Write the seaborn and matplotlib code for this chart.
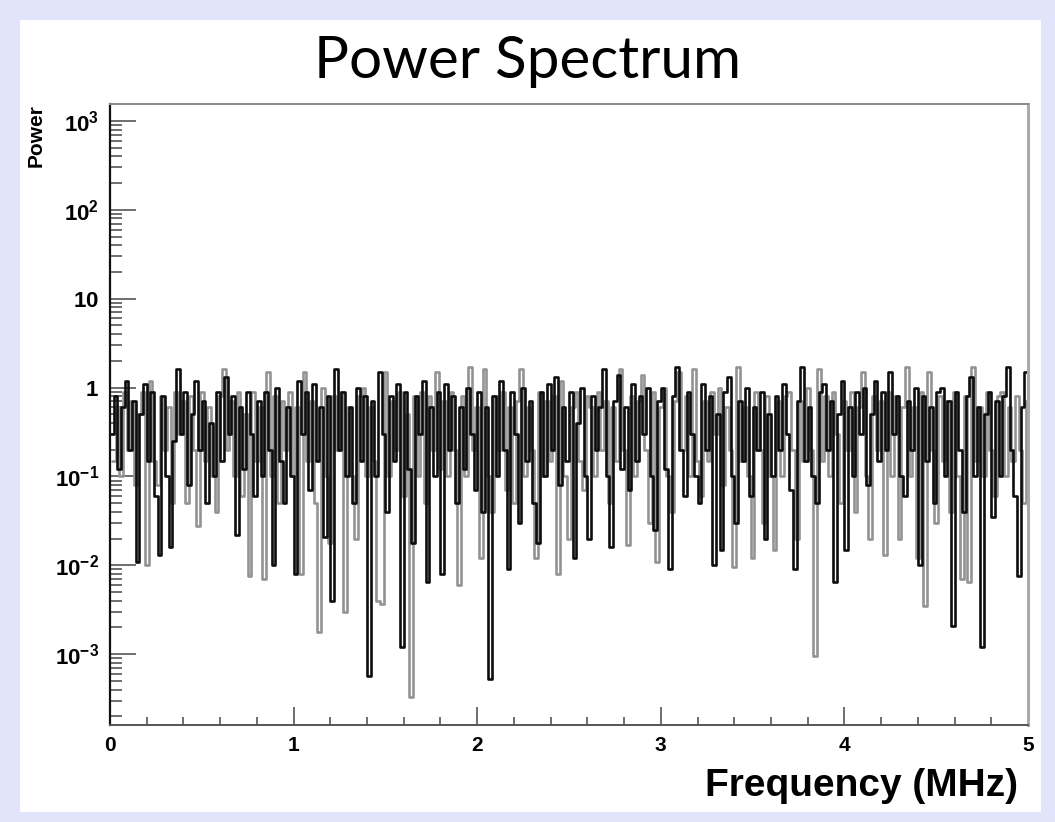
import numpy as np
import pandas as pd
import matplotlib
matplotlib.use("Agg")
import matplotlib.pyplot as plt
from matplotlib.patches import Rectangle
from matplotlib.ticker import MultipleLocator, LogLocator, NullFormatter
import seaborn as sns

# power per frequency bin (two overlapping spectra)
bin_width = 0.02  # MHz
black_start = 0.0
gray_start = 0.01

black_power = [
	0.3, 0.8, 0.12, 0.6, 1.2, 0.2, 0.7, 0.011, 0.5, 1.1,
	0.15, 0.9, 0.06, 0.013, 0.8, 0.1, 0.016, 0.25, 1.6, 0.3,
	0.9, 0.08, 0.5, 1.2, 0.2, 0.7, 0.05, 0.4, 0.1, 0.9,
	0.15, 1.3, 0.3, 0.8, 0.022, 0.6, 0.12, 0.9, 0.3, 0.06,
	0.7, 0.1, 0.9, 0.2, 0.01, 1.0, 0.15, 0.05, 0.6, 0.1,
	0.008, 1.2, 0.3, 0.9, 0.07, 1.1, 0.15, 0.6, 0.021, 0.8,
	0.004, 1.6, 0.2, 0.9, 0.1, 0.6, 0.05, 1.0, 0.15, 0.8,
	0.00057, 0.7, 0.1, 1.5, 0.3, 0.04, 0.8, 0.15, 1.1, 0.0012,
	0.9, 0.12, 0.018, 0.8, 0.3, 1.2, 0.0065, 0.6, 0.1, 0.9,
	0.008, 1.1, 0.2, 0.8, 0.05, 0.6, 0.12, 1.0, 0.3, 0.07,
	0.9, 0.04, 0.6, 0.00052, 0.8, 0.1, 1.2, 0.2, 0.009, 0.9,
	0.3, 0.03, 1.0, 0.15, 0.7, 0.05, 0.018, 0.9, 0.1, 1.1,
	0.2, 1.3, 0.08, 0.6, 0.15, 0.9, 0.012, 0.4, 1.0, 0.1,
	0.02, 0.8, 0.2, 0.6, 1.6, 0.1, 0.016, 0.7, 1.4, 0.12,
	0.6, 0.07, 1.1, 0.15, 0.8, 0.3, 1.0, 0.1, 0.025, 0.7,
	1.0, 0.12, 0.009, 0.8, 1.7, 0.2, 0.06, 0.9, 0.3, 0.1,
	0.05, 1.1, 0.2, 0.8, 0.01, 0.5, 0.015, 0.9, 1.3, 0.1,
	0.03, 0.7, 0.15, 1.0, 0.06, 0.6, 0.2, 0.9, 0.02, 0.5,
	0.1, 0.8, 0.2, 1.1, 0.3, 0.07, 0.009, 0.7, 1.7, 0.15,
	0.6, 0.1, 0.05, 0.9, 1.1, 0.2, 0.7, 0.0065, 0.5, 1.2,
	0.015, 0.6, 0.1, 0.9, 0.3, 1.0, 0.08, 0.5, 1.2, 0.15,
	0.9, 0.2, 1.5, 0.3, 0.8, 0.1, 0.06, 0.7, 0.2, 1.0,
	0.01, 0.8, 0.15, 0.6, 0.05, 0.9, 1.0, 0.1, 0.7, 0.0021,
	0.9, 0.2, 0.04, 0.8, 1.3, 0.1, 0.6, 0.0012, 0.5, 0.9,
	0.035, 0.7, 0.1, 0.8, 1.7, 0.2, 0.06, 0.0075, 0.6, 1.5,
]

gray_power = [
	0.15, 0.6, 0.1, 0.9, 0.2, 0.7, 0.08, 0.5, 0.9, 0.01,
	1.2, 0.15, 0.08, 0.8, 0.2, 0.6, 0.05, 0.9, 0.3, 0.7,
	0.05, 0.8, 0.2, 0.028, 0.9, 0.15, 0.6, 0.1, 0.04, 0.8,
	1.6, 0.2, 0.7, 0.1, 0.9, 0.06, 0.5, 0.0075, 0.9, 0.15,
	0.6, 0.007, 1.5, 0.1, 0.8, 0.05, 0.7, 0.2, 0.9, 0.1,
	0.6, 0.008, 1.5, 0.15, 0.7, 0.05, 0.0018, 1.0, 0.1, 0.018,
	0.8, 0.2, 0.9, 0.003, 0.6, 0.1, 0.02, 0.8, 1.0, 0.1,
	0.6, 0.15, 0.004, 0.0037, 1.5, 0.1, 0.7, 0.2, 0.9, 0.06,
	0.5, 0.00033, 0.8, 0.1, 0.9, 0.05, 0.8, 0.2, 1.5, 0.12,
	0.7, 0.1, 0.9, 0.2, 0.006, 0.8, 0.1, 1.7, 0.2, 0.6,
	0.012, 1.6, 0.1, 0.04, 0.8, 0.2, 0.9, 0.07, 0.6, 0.05,
	0.7, 1.6, 0.1, 0.6, 0.2, 0.012, 0.9, 0.1, 0.7, 0.15,
	0.8, 0.008, 1.2, 0.1, 0.02, 0.6, 0.9, 0.15, 0.07, 0.8,
	0.6, 0.1, 0.9, 0.2, 0.7, 0.05, 0.6, 0.15, 1.6, 0.2,
	0.017, 0.8, 0.1, 0.7, 1.4, 0.2, 0.03, 0.9, 0.011, 0.6,
	1.0, 0.1, 0.04, 0.7, 1.5, 0.2, 0.8, 0.1, 1.6, 0.15,
	0.06, 0.7, 0.15, 0.9, 0.3, 1.0, 0.08, 0.6, 0.2, 0.0095,
	1.7, 0.15, 0.6, 0.1, 0.012, 0.9, 0.2, 0.03, 0.8, 0.1,
	0.015, 0.7, 0.1, 0.8, 0.9, 0.2, 0.02, 0.7, 0.15, 1.0,
	0.2, 0.00095, 1.6, 0.15, 0.8, 0.1, 0.9, 0.3, 0.05, 0.7,
	0.2, 0.9, 0.04, 0.6, 1.5, 0.1, 0.02, 0.8, 0.2, 0.7,
	0.013, 0.9, 0.1, 0.8, 0.02, 0.6, 1.7, 0.1, 0.6, 0.012,
	0.9, 0.0035, 1.5, 0.2, 0.03, 0.8, 0.15, 0.7, 0.04, 0.9,
	0.1, 0.007, 0.8, 0.0065, 1.7, 0.15, 0.6, 0.1, 0.9, 0.2,
	0.06, 0.8, 0.9, 0.1, 0.6, 0.15, 0.8, 0.2, 0.05, 0.7,
]

y_ticks = [1e-3, 1e-2, 1e-1, 1, 10, 1e2, 1e3]
y_tick_labels = [r"$\mathbf{10^{-3}}$", r"$\mathbf{10^{-2}}$", r"$\mathbf{10^{-1}}$",
				 r"$\mathbf{1}$", r"$\mathbf{10}$", r"$\mathbf{10^{2}}$", r"$\mathbf{10^{3}}$"]
x_ticks = [0, 1, 2, 3, 4, 5]


def step_frame(start, values):
	edges = start + bin_width * np.arange(len(values) + 1)
	return pd.DataFrame({"freq": edges, "power": list(values) + [values[-1]]})


sns.set_style("ticks")
plt.rcParams["font.family"] = ["Liberation Sans", "DejaVu Sans"]
plt.rcParams["text.color"] = "black"
plt.rcParams["xtick.color"] = "black"
plt.rcParams["ytick.color"] = "black"
plt.rcParams["mathtext.fontset"] = "custom"
plt.rcParams["mathtext.rm"] = "Liberation Sans:bold"
plt.rcParams["mathtext.bf"] = "Liberation Sans:bold"

W, H = 1055, 822
fig = plt.figure(figsize=(W / 100, H / 100), dpi=100)
fig.patch.set_facecolor("#e1e4fb")
fig.patches.append(Rectangle((20 / W, 10 / H), (1041 - 20) / W, (812 - 20) / H,
							 transform=fig.transFigure, facecolor="white",
							 edgecolor="none", zorder=-5))

ax = fig.add_axes([110 / W, 1 - 725 / H, (1028 - 110) / W, (725 - 104) / H])
ax.set_zorder(2)
ax.set_facecolor("white")

sns.lineplot(data=step_frame(gray_start, gray_power), x="freq", y="power", ax=ax,
			 drawstyle="steps-post", color="#939393", lw=1.9, estimator=None, sort=False)
sns.lineplot(data=step_frame(black_start, black_power), x="freq", y="power", ax=ax,
			 drawstyle="steps-post", color="#0d0d0d", lw=1.9, estimator=None, sort=False)

ax.set_yscale("log")
ax.set_xlim(0, 5)
ax.set_ylim(1.6e-4, 1.55e3)
ax.set_xlabel("")
ax.set_ylabel("")

ax.set_xticks(x_ticks)
ax.set_xticklabels([str(t) for t in x_ticks], fontsize=15, fontweight="bold")
ax.xaxis.set_minor_locator(MultipleLocator(0.2))
ax.set_yticks(y_ticks)
ax.set_yticklabels(y_tick_labels, fontsize=16)
ax.yaxis.set_minor_locator(LogLocator(base=10, subs=np.arange(2, 10)))
ax.yaxis.set_minor_formatter(NullFormatter())

ax.tick_params(axis="y", which="major", direction="in", length=19, width=1.2, pad=8,
			   color="#555555", left=True, right=False)
ax.tick_params(axis="y", which="minor", direction="in", length=8.5, width=1.2,
			   color="#555555", left=True, right=False)
ax.tick_params(axis="x", which="major", direction="in", length=13, width=1.2, pad=8,
			   color="#555555", bottom=True, top=False)
ax.tick_params(axis="x", which="minor", direction="in", length=6, width=1.2,
			   color="#555555", bottom=True, top=False)

for side in ["top", "right", "bottom", "left"]:
	ax.spines[side].set_visible(True)
ax.spines["left"].set_color("#111111")
ax.spines["left"].set_linewidth(1.6)
ax.spines["bottom"].set_color("#555555")
ax.spines["bottom"].set_linewidth(1.4)
ax.spines["top"].set_color("#888888")
ax.spines["top"].set_linewidth(1.4)
ax.spines["right"].set_color("#aaaaaa")
ax.spines["right"].set_linewidth(2.2)

fig.text(528 / W, 1 - 62 / H, "Power Spectrum", ha="center", va="center",
		 fontsize=42, family=["Lato", "DejaVu Sans"], color="black")
fig.text(36 / W, 1 - 104 / H, "Power", ha="center", va="top", rotation=90,
		 fontsize=15, fontweight="bold")
fig.text(1018 / W, 1 - 786 / H, "Frequency (MHz)", ha="right", va="center",
		 fontsize=28, fontweight="bold")

fig.savefig("out.png", dpi=100, facecolor=fig.get_facecolor())
